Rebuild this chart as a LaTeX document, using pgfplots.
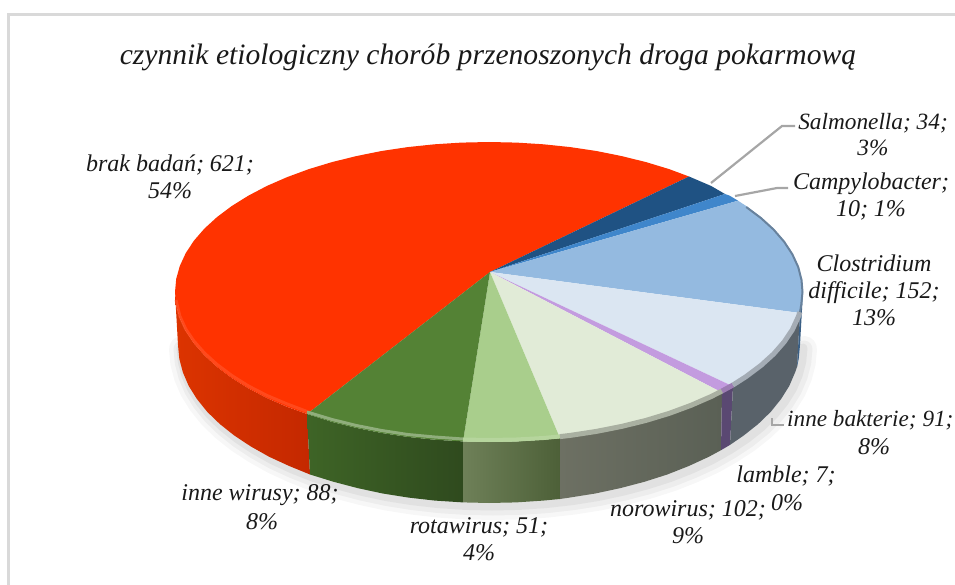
\documentclass[border=0pt]{standalone}
\usepackage{fontspec}
\setmainfont{Liberation Serif}
\usepackage{pgfplots}
\pgfplotsset{compat=1.18}
\usepackage{pgfplotstable}

\definecolor{cRed}{HTML}{FF3300}
\definecolor{cDark}{HTML}{1F5283}
\definecolor{cBlue}{HTML}{3F86CB}
\definecolor{cLight}{HTML}{94BAE0}
\definecolor{cPale}{HTML}{DBE6F2}
\definecolor{cPurple}{HTML}{C39BDF}
\definecolor{cLime}{HTML}{E1EBD7}
\definecolor{cLeaf}{HTML}{A9CE8C}
\definecolor{cGreen}{HTML}{548235}
\definecolor{leader}{HTML}{A6A6A6}
\definecolor{frame}{HTML}{D9D9D9}
\definecolor{sRedA}{HTML}{DC3400}
\definecolor{sRedB}{HTML}{C42800}
\definecolor{sGreenA}{HTML}{3E6426}
\definecolor{sGreenB}{HTML}{2F4A1E}
\definecolor{sLeafA}{HTML}{6E8058}
\definecolor{sLeafB}{HTML}{4D6038}
\definecolor{sLimeA}{HTML}{6D7063}
\definecolor{sLimeB}{HTML}{5A6055}
\definecolor{sPale}{HTML}{59626A}
\definecolor{sPurple}{HTML}{5A4872}
\definecolor{sLight}{HTML}{3A5F85}

\tikzset{
	lab/.style={font=\fontsize{24}{27}\itshape\selectfont, align=center, text=black!90, inner sep=0pt},
}

% lower edge of the pie, in picture pixels
\pgfplotstableread{
x y
178 345
179.3 358.8
182.9 372.4
188.7 385.9
196.9 399
207.2 411.8
219.8 424
234.4 435.6
250.9 446.5
269.2 456.8
289.2 466
310.7 474.5
333.6 481.8
357.6 488.1
382.7 493.5
408.5 497.6
435 500.6
461.9 502.4
489 503
516.1 502.4
543 500.6
569.5 497.6
595.3 493.5
620.4 488.1
644.4 481.8
667.3 474.5
688.8 466
708.8 456.8
727.1 446.5
743.6 435.6
758.2 424
770.8 411.8
781.1 399
789.3 385.9
795.1 372.4
798.7 358.8
800 345
}\loweredge

\begin{document}
\begin{tikzpicture}
\begin{axis}[
	hide axis,
	scale only axis,
	width=955pt,
	height=585pt,
	xmin=0, xmax=955,
	ymin=0, ymax=585,
	y dir=reverse,
	clip=false,
	every axis plot/.append style={forget plot},
]
\path[use as bounding box] (axis cs:0,0) rectangle (axis cs:955,585);

% frame
\addplot[frame, line width=3pt] coordinates {(955,15) (8.5,15) (8.5,585)};

% soft shadow under the pie
\addplot[black, opacity=0.03, line width=26pt, line cap=round, xshift=4pt, yshift=-4pt] table {\loweredge};
\addplot[black, opacity=0.04, line width=17pt, line cap=round, xshift=4pt, yshift=-4pt] table {\loweredge};
\addplot[black, opacity=0.05, line width=9pt, line cap=round, xshift=3pt, yshift=-3pt] table {\loweredge};

% side wall
\addplot[draw=none, left color=sRedA, right color=sRedB] coordinates {
	(175,292) (176.2,305.1) (179.8,318) (185.7,330.8) (193.9,343.3) (204.4,355.4) (217.1,367) (231.8,378) (248.5,388.4) (267,398.1) (287.2,406.9) (307,414)
	(310,474.5) (289.2,466) (269.2,456.8) (250.9,446.5) (234.4,435.6) (219.8,424) (207.2,411.8) (196.9,399) (188.7,385.9) (182.9,372.4) (179.3,358.8) (178,345)
};
\addplot[draw=none, left color=sGreenA, right color=sGreenB] coordinates {
	(307,414) (332,421.9) (356.3,427.9) (381.6,433) (407.7,436.9) (434.5,439.7) (463,441.4)
	(463,502.4) (435,500.6) (408.5,497.6) (382.7,493.5) (357.6,488.1) (333.6,481.8) (310,474.5)
};
\addplot[draw=none, left color=sLeafA, right color=sLeafB] coordinates {
	(463,441.4) (489,442) (516.4,441.4) (543.5,439.7) (560,438.2)
	(560,499) (543,500.6) (516.1,502.4) (489,503) (463,502.4)
};
\addplot[draw=none, left color=sLimeA, right color=sLimeB] coordinates {
	(560,438.2) (570.3,436.9) (596.4,433) (621.7,427.9) (646,421.9) (669.1,414.9) (690.8,406.9) (711,398.1) (722,392.6)
	(721,450.2) (708.8,456.8) (688.8,466) (667.3,474.5) (644.4,481.8) (620.4,488.1) (595.3,493.5) (569.5,497.6) (560,499)
};
\addplot[fill=sPurple, draw=none] coordinates {
	(722,392.6) (729.5,388.4) (733,386.4) (730,444.9) (721,450.2)
};
\addplot[fill=sPale, draw=none] coordinates {
	(733,386.4) (746.2,378) (760.9,367) (773.6,355.4) (784.1,343.3) (792.3,330.8) (798.2,318) (800,313)
	(797,367) (795.1,372.4) (789.3,385.9) (781.1,399) (770.8,411.8) (758.2,424) (743.6,435.6) (730,444.9)
};
\addplot[fill=sLight, draw=none] coordinates {
	(800,313) (801.8,305.1) (803,292) (800,345) (798.7,358.8) (797,367)
};

% top face
\addplot[fill=cRed, draw=none] coordinates {
	(490,272) (307,414) (287.2,406.9) (267,398.1) (248.5,388.4) (231.8,378) (217.1,367) (204.4,355.4) (193.9,343.3) (185.7,330.8) (179.8,318) (176.2,305.1)
	(175,292) (176.2,278.9) (179.8,266) (185.7,253.2) (193.9,240.7) (204.4,228.6) (217.1,217) (231.8,206) (248.5,195.6) (267,185.9) (287.2,177.1) (308.9,169.1)
	(332,162.1) (356.3,156.1) (381.6,151) (407.7,147.1) (434.5,144.3) (461.6,142.6) (489,142) (516.4,142.6) (543.5,144.3) (570.3,147.1) (596.4,151) (621.7,156.1)
	(646,162.1) (669.1,169.1) (689,176.5)
};
\addplot[fill=cDark, draw=none] coordinates {(490,272) (689,176.5) (711,185.9) (725,194)};
\addplot[fill=cBlue, draw=none] coordinates {(490,272) (725,194) (729.5,195.6) (738,200.7)};
\addplot[fill=cLight, draw=none] coordinates {
	(490,272) (738,200.7) (746.2,206) (760.9,217) (773.6,228.6) (784.1,240.7) (792.3,253.2) (798.2,266) (801.8,278.9) (803,292) (801.8,305.1) (800,313)
};
\addplot[fill=cPale, draw=none] coordinates {
	(490,272) (800,313) (798.2,318) (792.3,330.8) (784.1,343.3) (773.6,355.4) (760.9,367) (746.2,378) (733,386.4)
};
\addplot[fill=cPurple, draw=none] coordinates {(490,272) (733,386.4) (729.5,388.4) (722,392.6)};
\addplot[fill=cLime, draw=none] coordinates {
	(490,272) (722,392.6) (711,398.1) (690.8,406.9) (669.1,414.9) (646,421.9) (621.7,427.9) (596.4,433) (570.3,436.9) (560,438.2)
};
\addplot[fill=cLeaf, draw=none] coordinates {
	(490,272) (560,438.2) (543.5,439.7) (516.4,441.4) (489,442) (463,441.4)
};
\addplot[fill=cGreen, draw=none] coordinates {
	(490,272) (463,441.4) (434.5,439.7) (407.7,436.9) (381.6,433) (356.3,427.9) (332,421.9) (307,414)
};

% bevel along the front rim
\addplot[draw=red!60!orange!80!white, opacity=0.55, line width=3pt] coordinates {
	(176,300) (179.8,316) (185.7,329) (193.9,341) (204.4,353) (217.1,364.5) (231.8,375.5) (248.5,386) (267,395.5) (287.2,404) (307,411.5)
};
\addplot[draw=cGreen!65!white, line width=3pt] coordinates {
	(307,412) (332,419.5) (356.3,425.5) (381.6,430.5) (407.7,434.5) (434.5,437) (463,439)
};
\addplot[draw=cLeaf!85!white, line width=4pt] coordinates {
	(463,439.5) (489,440) (516.4,439.5) (543.5,438) (560,436.4)
};
\addplot[draw=cLime!75!black, line width=5pt] coordinates {
	(560,436.6) (570.3,435.4) (596.4,431.4) (621.7,426.4) (646,420.4) (669.1,413.4) (690.8,405.4) (711,396.6) (722,391)
};
\addplot[draw=cPurple!80!black, line width=5pt] coordinates {(722,391) (733,385)};
\addplot[draw=cPale!75!black, line width=5pt] coordinates {
	(733,385) (746.2,376.5) (760.9,365.5) (773.6,354) (784.1,342) (792.3,329.8) (798.2,317) (800,312)
};
\addplot[draw=cLight!70!black, line width=2pt] coordinates {
	(746.2,207) (760.9,218) (773.6,229.6) (784.1,241.7) (792.3,254.2) (798.2,267) (801.5,279.9) (802.5,292) (801.2,305.1) (800,312)
};

% leader lines
\addplot[leader, line width=2.2pt] coordinates {(711,183) (782,126) (795,126)};
\addplot[leader, line width=2.2pt] coordinates {(735,196) (777,188) (788,188)};
\addplot[leader, line width=2.2pt] coordinates {(772,418) (772,425) (784,425)};

% texts
\node[font=\fontsize{29.6}{34}\itshape\selectfont, text=black!90, inner sep=0pt] at (axis cs:488,57) {czynnik etiologiczny chorób przenoszonych droga pokarmową};
\node[lab] at (axis cs:170,177) {brak badań; 621;\\54\%};
\node[lab, font=\fontsize{23.3}{26}\itshape\selectfont] at (axis cs:873,134.5) {Salmonella; 34;\\3\%};
\node[lab] at (axis cs:871,197) {Campylobacter;\\10; 1\%};
\node[lab] at (axis cs:874,290) {Clostridium\\difficile; 152;\\13\%};
\node[lab, anchor=west, font=\fontsize{23.2}{27}\itshape\selectfont] at (axis cs:787,420) {inne bakterie; 91;};
\node[lab] at (axis cs:874,447) {8\%};
\node[lab] at (axis cs:786,476) {lamble; 7;};
\node[lab] at (axis cs:787,503) {0\%};
\node[lab] at (axis cs:688,522) {norowirus; 102;\\9\%};
\node[lab] at (axis cs:479,539) {rotawirus; 51;\\4\%};
\node[lab] at (axis cs:260,495) {inne wirusy; 88;};
\node[lab] at (axis cs:262,522) {8\%};
\end{axis}
\end{tikzpicture}
\end{document}
